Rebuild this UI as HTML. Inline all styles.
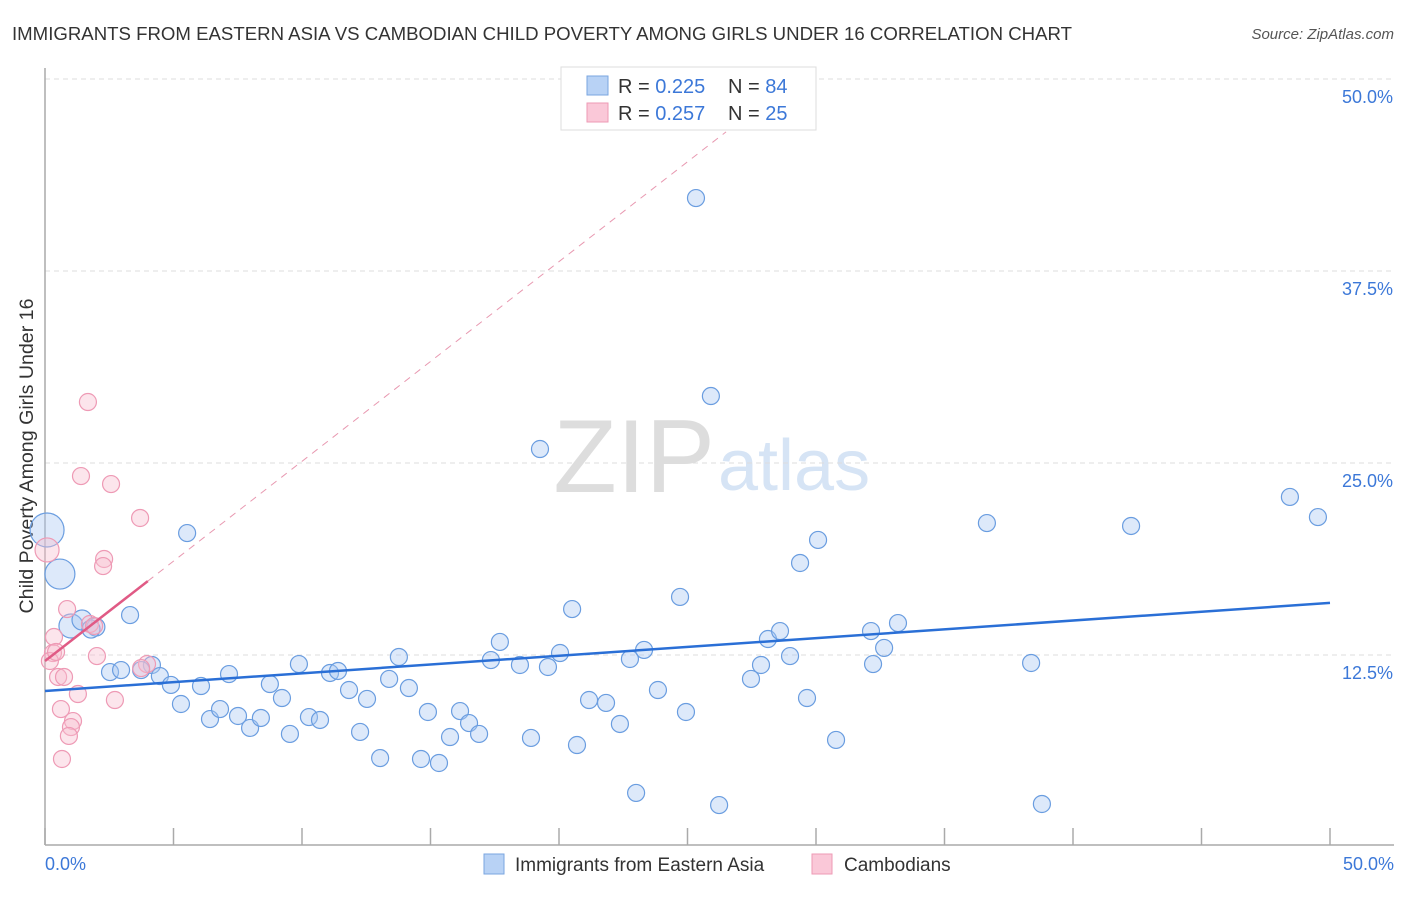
<!DOCTYPE html>
<html><head><meta charset="utf-8"><style>
body{margin:0;background:#fff;font-family:"Liberation Sans",sans-serif;}
svg text{font-family:"Liberation Sans",sans-serif;}
</style></head><body>
<svg id="c" width="1406" height="892" xmlns="http://www.w3.org/2000/svg">
<text x="12" y="40" font-size="18" fill="#333" textLength="1060" lengthAdjust="spacingAndGlyphs">IMMIGRANTS FROM EASTERN ASIA VS CAMBODIAN CHILD POVERTY AMONG GIRLS UNDER 16 CORRELATION CHART</text>
<text x="1394" y="39" font-size="15" fill="#555" font-style="italic" text-anchor="end">Source: ZipAtlas.com</text>
<text x="715" y="492" font-size="104" fill="#ddd" font-family="Liberation Serif" text-anchor="end">ZIP</text>
<text x="718" y="490" font-size="72" fill="#d6e4f5">atlas</text>
<text transform="translate(33,456) rotate(-90)" font-size="19" fill="#333" text-anchor="middle" textLength="315" lengthAdjust="spacingAndGlyphs">Child Poverty Among Girls Under 16</text>
<g id="grid"></g><g id="pts"></g><g id="lines"></g>
<g>
<rect x="561" y="67" width="255" height="63" fill="#fff" stroke="#ddd"/>
<rect x="587" y="76" width="21" height="19" fill="#b8d2f5" stroke="#7aa6e0"/>
<rect x="587" y="103" width="21" height="19" fill="#fac8d8" stroke="#ee9ab5"/>
<text x="618" y="93" font-size="20" fill="#333">R = <tspan fill="#3c78d8">0.225</tspan></text>
<text x="728" y="93" font-size="20" fill="#333">N = <tspan fill="#3c78d8">84</tspan></text>
<text x="618" y="120" font-size="20" fill="#333">R = <tspan fill="#3c78d8">0.257</tspan></text>
<text x="728" y="120" font-size="20" fill="#333">N = <tspan fill="#3c78d8">25</tspan></text>
</g>
<g>
<rect x="484" y="854" width="20" height="20" fill="#b8d2f5" stroke="#7aa6e0"/>
<text x="515" y="871" font-size="19" fill="#333">Immigrants from Eastern Asia</text>
<rect x="812" y="854" width="20" height="20" fill="#fac8d8" stroke="#ee9ab5"/>
<text x="844" y="871" font-size="19" fill="#333">Cambodians</text>
</g>
</svg>
<script>
const blueX=[25.33,25.91,19.26,5.53,48.44,49.53,36.65,42.26,30.08,29.38,0.08,0.58,1.01,1.44,1.98,1.79,3.31,20.51,24.71,2.53,2.96,4.16,3.74,4.47,4.90,6.07,7.16,8.75,9.88,9.22,11.09,11.40,11.83,12.53,13.77,13.39,14.16,17.70,17.35,18.48,19.57,20.04,22.76,23.31,23.85,21.17,21.83,5.29,6.42,6.81,7.51,7.98,8.40,9.53,10.27,10.70,12.26,13.04,14.63,15.33,14.90,15.76,16.15,16.50,16.89,18.91,20.70,22.37,24.94,23.00,26.23,28.13,28.60,28.99,27.86,27.47,29.65,30.78,32.14,32.65,33.19,32.22,38.37,38.79];
const blueY=[42.25,29.36,25.91,20.44,22.79,21.48,21.09,20.90,19.99,18.49,20.64,17.77,14.39,14.78,14.32,14.19,15.10,15.49,16.28,11.39,11.52,11.85,11.52,11.13,10.55,10.48,11.26,10.61,11.91,9.70,11.33,11.46,10.22,9.64,12.37,10.94,10.35,13.35,12.17,11.85,11.72,12.63,12.24,12.83,10.22,9.57,9.38,9.31,8.33,8.98,8.53,7.75,8.40,7.36,8.46,8.27,7.49,5.79,5.73,5.47,8.79,7.16,8.85,8.07,7.36,7.10,6.64,8.01,8.79,3.52,2.73,13.54,14.06,12.43,11.85,10.94,9.70,6.97,14.06,12.96,14.58,11.91,11.98,2.80];
const blueR=[8.5,8.5,8.5,8.5,8.5,8.5,8.5,8.5,8.5,8.5,17,15,12,10,9,9];
const pinkX=[1.67,1.40,2.57,3.70,0.08,2.30,2.26,0.86,0.35,0.31,0.19,0.43,2.02,1.75,1.91,0.51,0.74,1.28,0.62,1.09,1.01,0.93,0.66,2.72,3.97,3.74];
const pinkY=[28.97,24.15,23.63,21.42,19.34,18.75,18.29,15.49,13.67,12.63,12.11,12.70,12.43,14.52,14.39,11.07,11.07,9.96,8.98,8.20,7.81,7.23,5.73,9.57,11.91,11.65];
const pinkR=[8.5,8.5,8.5,8.5,12];
const yTicks=[12.5,25,37.5,50];
const yTickLabels=["12.5%","25.0%","37.5%","50.0%"];
const blueTrend=[10.16,15.89];
const pinkTrend=[12.11,1.30];
const NS="http://www.w3.org/2000/svg";
const X=v=>45+v*25.7, Y=v=>847-v*15.36;
function mk(tag,attrs,parent){const e=document.createElementNS(NS,tag);for(const k in attrs)e.setAttribute(k,attrs[k]);parent.appendChild(e);return e;}
const grid=document.getElementById('grid'),pts=document.getElementById('pts'),lines=document.getElementById('lines');
yTicks.forEach((t,i)=>{
 const l=mk('line',{x1:45,x2:1394,y1:Y(t),y2:Y(t),stroke:'#ddd','stroke-dasharray':'5,4'},grid);
 
 
 const tx=mk('text',{x:1393,y:Y(t)+24,'font-size':18,fill:'#3c78d8','text-anchor':'end'},grid);
 tx.textContent=yTickLabels[i];
 
 
});
let ax=mk('line',{x1:45,x2:45,y1:68,y2:845,stroke:'#aaa','stroke-width':1.5},grid);


ax=mk('line',{x1:45,x2:1394,y1:845,y2:845,stroke:'#aaa','stroke-width':1.5},grid);


for(let i=0;i<=10;i++){const tk=mk('line',{x1:X(i*5),x2:X(i*5),y1:828,y2:845,stroke:'#aaa','stroke-width':1.5},grid);
 
 }
let xl=mk('text',{x:45,y:870,'font-size':18,fill:'#3c78d8'},grid);xl.textContent='0.0%';


xl=mk('text',{x:1394,y:870,'font-size':18,fill:'#3c78d8','text-anchor':'end'},grid);xl.textContent='50.0%';


blueX.forEach((v,i)=>{const c=mk('circle',{cx:X(v),cy:Y(blueY[i]),r:blueR[i]||8.5,fill:'rgba(170,200,242,0.4)',stroke:'#6a9de0','stroke-width':1.2},pts);
 
 });
pinkX.forEach((v,i)=>{const c=mk('circle',{cx:X(v),cy:Y(pinkY[i]),r:pinkR[i]||8.5,fill:'rgba(248,190,208,0.4)',stroke:'#ee9ab5','stroke-width':1.2},pts);
 
 });
let tl=mk('line',{x1:X(0),y1:Y(blueTrend[0]),x2:X(50),y2:Y(blueTrend[1]),stroke:'#2a6fd6','stroke-width':2.5},lines);


const pf=v=>pinkTrend[0]+pinkTrend[1]*v;
tl=mk('line',{x1:X(4),y1:Y(pf(4)),x2:X(26.5),y2:Y(pf(26.5)),stroke:'#e898b0','stroke-width':1,'stroke-dasharray':'7,6'},lines);


tl=mk('line',{x1:X(0),y1:Y(pf(0)),x2:X(4),y2:Y(pf(4)),stroke:'#e05a85','stroke-width':2.5},lines);


</script>
</body></html>
